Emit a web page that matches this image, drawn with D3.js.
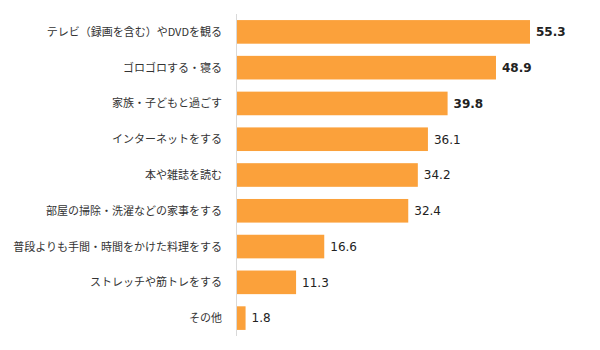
<!DOCTYPE html>
<html>
<head>
<meta charset="utf-8">
<script src="https://cdn.jsdelivr.net/npm/d3@7"></script>
<style>
  html, body { margin: 0; padding: 0; background: #fff; }
  svg { display: block; }
</style>
</head>
<body>
<svg id="chart" width="600" height="350"></svg>
<script>
const categories = [
  "テレビ（録画を含む）やDVDを観る",
  "ゴロゴロする・寝る",
  "家族・子どもと過ごす",
  "インターネットをする",
  "本や雑誌を読む",
  "部屋の掃除・洗濯などの家事をする",
  "普段よりも手間・時間をかけた料理をする",
  "ストレッチや筋トレをする",
  "その他"
];
const values = [55.3, 48.9, 39.8, 36.1, 34.2, 32.4, 16.6, 11.3, 1.8];
const boldFlags = [true, true, true, false, false, false, false, false, false];

const svg = d3.select("#chart");
const x0 = 236;
const x = d3.scaleLinear().domain([0, 55.3]).range([x0, 530]);
const y = d3.scaleBand().domain(categories).range([14, 336]).paddingInner(0.34).paddingOuter(0.17);

// bars
svg.append("g").selectAll("rect").data(values).join("rect")
  .attr("x", x(0))
  .attr("y", (d, i) => y(categories[i]))
  .attr("width", d => x(d) - x(0))
  .attr("height", y.bandwidth())
  .attr("fill", "#FBA13B");

// axis line
svg.append("line")
  .attr("x1", x0 + 0.5).attr("x2", x0 + 0.5)
  .attr("y1", 14).attr("y2", 336)
  .attr("stroke", "#d9d9d9").attr("stroke-width", 1);

// category labels
svg.append("g").selectAll("text").data(categories).join("text")
  .attr("x", 222)
  .attr("y", d => y(d) + y.bandwidth() / 2)
  .attr("dy", "0.36em")
  .attr("text-anchor", "end")
  .attr("font-family", "'Noto Sans CJK JP', sans-serif")
  .attr("font-size", 11)
  .attr("fill", "#333")
  .text(d => d);

// value labels
svg.append("g").selectAll("text").data(values).join("text")
  .attr("x", d => x(d) + 6)
  .attr("y", (d, i) => y(categories[i]) + y.bandwidth() / 2)
  .attr("dy", "0.36em")
  .attr("font-family", "'DejaVu Sans', Verdana, sans-serif")
  .attr("font-size", 12)
  .attr("font-weight", (d, i) => boldFlags[i] ? "bold" : "normal")
  .attr("fill", "#222")
  .text(d => d.toFixed(1));
</script>
</body>
</html>
